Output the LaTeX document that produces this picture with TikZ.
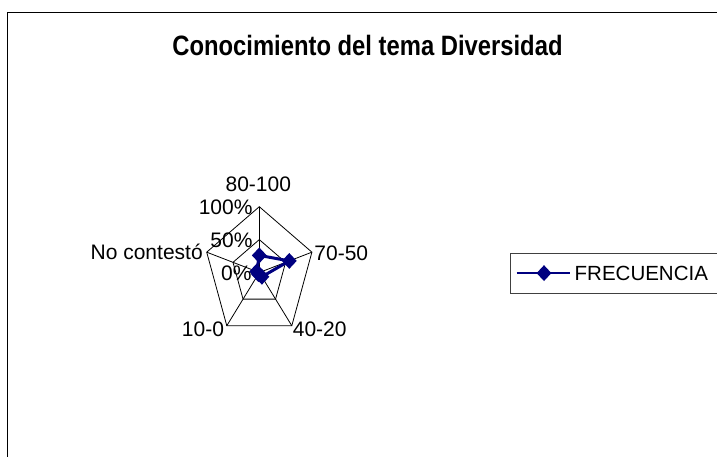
\documentclass[tikz,border=0pt]{standalone}
\usepackage{fontspec}
\setmainfont{Liberation Sans}
\usetikzlibrary{shapes.geometric}
\definecolor{azul}{HTML}{000080}

\begin{document}
\begin{tikzpicture}[x=1pt,y=-1pt,
	rejilla/.style={color=black, line width=0.8pt},
	serie/.style={color=azul, line width=3pt, line join=round},
	marca/.style={diamond, fill=azul, inner sep=0pt, minimum width=15pt, minimum height=16pt},
	etiqueta/.style={font=\fontsize{21}{24}\selectfont, inner sep=0pt}]
\useasboundingbox (0,0) rectangle (717,456);
\clip (0,0) rectangle (717,456);
\fill[white] (0,0) rectangle (717,456);
\draw[color=black, line width=1.5pt] (7.7,480)--(7.7,12.7)--(740,12.7);
\node[font=\bfseries\fontsize{28}{30}\selectfont, xscale=0.85] (titulo) at (367.5,45) {Conocimiento del tema Diversidad};
% rejilla del radar
\coordinate (centro) at (259.3,272.5);
\foreach \i in {0,...,4}{
	\coordinate (v\i) at ({259.3+55.3*sin(72*\i)},{272.5-65.8*cos(72*\i)});
	\coordinate (m\i) at ({259.3+27.65*sin(72*\i)},{272.5-32.9*cos(72*\i)});
	\draw[rejilla] (centro)--(v\i);
}
\draw[rejilla] (v0)--(v1)--(v2)--(v3)--(v4)--cycle;
\draw[rejilla] (m0)--(m1)--(m2)--(m3)--(m4)--cycle;
% serie
\foreach \i/\v in {0/0.26,1/0.57,2/0.08,3/0.03,4/0.05}{
	\coordinate (d\i) at ({259.3+55.3*\v*sin(72*\i)},{272.5-65.8*\v*cos(72*\i)});
}
\draw[serie] (d0)--(d1)--(d2)--(d3)--(d4)--cycle;
\foreach \i in {0,...,4}{
	\node[marca] (p\i) at (d\i) {};
}
% etiquetas
\node[etiqueta, anchor=base] (c0) at (258.3,191) {80-100};
\node[etiqueta, anchor=base] (c1) at (341.3,260) {70-50};
\node[etiqueta, anchor=base] (c2) at (319.7,336) {40-20};
\node[etiqueta, anchor=base] (c3) at (203,336) {10-0};
\node[etiqueta, anchor=base] (c4) at (146.7,259.3) {No contestó};
\node[etiqueta, anchor=base east] (e100) at (252.7,214.5) {100\%};
\node[etiqueta, anchor=base east] (e50) at (252.7,247.3) {50\%};
\node[etiqueta, anchor=base east] (e0) at (251.7,280.7) {0\%};
% leyenda
\node[draw=black!75, line width=0.8pt, anchor=north west, minimum width=240pt, minimum height=40pt, inner sep=0pt] (leyenda) at (510,252.7) {};
\coordinate (l1) at ([xshift=6.7pt]leyenda.west);
\coordinate (l2) at ([xshift=60pt]leyenda.west);
\draw[serie, line width=2.7pt] (l1)--(l2);
\node[marca] (lm) at ([xshift=34pt]leyenda.west) {};
\node[etiqueta, anchor=base west, font=\fontsize{20.5}{24}\selectfont] (nombre) at (574.5,280.7) {FRECUENCIA};
\end{tikzpicture}
\end{document}
